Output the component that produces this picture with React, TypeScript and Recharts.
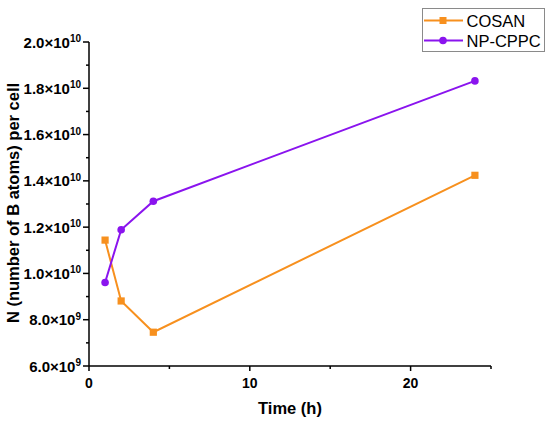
import { LineChart, Line, XAxis, YAxis, Legend } from 'recharts';

const TIMES = [1, 2, 4, 24];
const COSAN = [1.144e10, 8.81e9, 7.46e9, 1.424e10];
const NP_CPPC = [9.61e9, 1.189e10, 1.312e10, 1.832e10];

const X_TICKS = [0, 5, 10, 15, 20, 25];
const X_LABELED = [0, 10, 20];
const Y_TICKS = [6e9, 7e9, 8e9, 9e9, 1e10, 1.1e10, 1.2e10, 1.3e10, 1.4e10, 1.5e10, 1.6e10, 1.7e10, 1.8e10, 1.9e10, 2e10];
const Y_LABELED = [6e9, 8e9, 1e10, 1.2e10, 1.4e10, 1.6e10, 1.8e10, 2e10];

const ORANGE = '#F7901E';
const PURPLE = '#8A14EE';
const FONT = '"Liberation Sans", Arial, sans-serif';

const data = TIMES.map((t, i) => ({ time: t, cosan: COSAN[i], npcppc: NP_CPPC[i] }));

const XTick = ({ x, y, payload }: any) => {
  const major = X_LABELED.includes(payload.value);
  return (
    <g>
      <line x1={x} x2={x} y1={y} y2={y + (major ? 5 : 3)} stroke="#000" strokeWidth={1.5} />
      {major && (
        <text x={x} y={y + 22} textAnchor="middle" fontFamily={FONT} fontWeight="bold" fontSize={14} fill="#000">
          {payload.value}
        </text>
      )}
    </g>
  );
};

const YTick = ({ x, y, payload }: any) => {
  const v = payload.value;
  const major = Y_LABELED.includes(v);
  const exp = Math.floor(Math.log10(v) + 1e-9);
  const mant = (v / Math.pow(10, exp)).toFixed(1);
  return (
    <g>
      <line x1={x - (major ? 6 : 3)} x2={x} y1={y} y2={y} stroke="#000" strokeWidth={1.5} />
      {major && (
        <text x={x - 8} y={y + 5.5} textAnchor="end" fontFamily={FONT} fontWeight="bold" fontSize={15} fill="#000">
          {mant}×10
          <tspan dy={-5.5} fontSize={10}>{exp}</tspan>
        </text>
      )}
    </g>
  );
};

const SquareDot = ({ cx, cy }: any) => (
  <rect x={cx - 3.6} y={cy - 3.6} width={7.2} height={7.2} fill={ORANGE} />
);

const CircleDot = ({ cx, cy }: any) => <circle cx={cx} cy={cy} r={3.8} fill={PURPLE} />;

const LegendBox = () => (
  <svg width={124} height={45} style={{ display: 'block' }}>
    <rect x={0.5} y={0.5} width={122} height={43} fill="#fff" stroke="#8a8a8a" strokeWidth={1} />
    <line x1={2} x2={41} y1={12.5} y2={12.5} stroke={ORANGE} strokeWidth={2} />
    <rect x={17.5} y={9} width={7} height={7} fill={ORANGE} />
    <text x={44.5} y={18.5} fontFamily={FONT} fontSize={16.5} fill="#000">COSAN</text>
    <line x1={2} x2={41} y1={32.5} y2={32.5} stroke={PURPLE} strokeWidth={2} />
    <circle cx={21} cy={32.5} r={3.8} fill={PURPLE} />
    <text x={44.5} y={38.5} fontFamily={FONT} fontSize={16.5} fill="#000">NP-CPPC</text>
  </svg>
);

export default function App() {
  return (
    <div style={{ position: 'absolute', left: 0, top: 0, width: 550, height: 422, background: '#fff' }}>
      <LineChart width={550} height={422} data={data} margin={{ top: 42, right: 59, bottom: 26, left: 8 }}>
        <XAxis
          dataKey="time"
          type="number"
          domain={[0, 25]}
          ticks={X_TICKS}
          tick={<XTick />}
          tickSize={0}
          tickMargin={0}
          tickLine={false}
          height={30}
          axisLine={{ stroke: '#000', strokeWidth: 1.5 }}
          interval={0}
          label={{
            content: ({ viewBox }: any) => (
              <text x={viewBox.x + viewBox.width / 2} y={414} textAnchor="middle" fontFamily={FONT} fontWeight="bold" fontSize={16.5} fill="#000">
                Time (h)
              </text>
            ),
          }}
        />
        <YAxis
          type="number"
          domain={[6e9, 2e10]}
          ticks={Y_TICKS}
          tick={<YTick />}
          tickSize={0}
          tickMargin={0}
          tickLine={false}
          width={81}
          interval={0}
          axisLine={{ stroke: '#000', strokeWidth: 1.5 }}
          label={{
            content: () => (
              <text x={19} y={203} transform="rotate(-90, 19, 203)" textAnchor="middle" fontFamily={FONT} fontWeight="bold" fontSize={16.5} fill="#000">
                N (number of B atoms) per cell
              </text>
            ),
          }}
        />
        <Legend
          layout="horizontal"
          verticalAlign="middle"
          align="center"
          content={<LegendBox />}
          wrapperStyle={{ position: 'absolute', left: 422, top: 8, width: 124, height: 45 }}
        />
        <Line
          dataKey="cosan"
          name="COSAN"
          type="linear"
          stroke={ORANGE}
          strokeWidth={2}
          dot={<SquareDot />}
          activeDot={false}
          isAnimationActive={false}
        />
        <Line
          dataKey="npcppc"
          name="NP-CPPC"
          type="linear"
          stroke={PURPLE}
          strokeWidth={2}
          dot={<CircleDot />}
          activeDot={false}
          isAnimationActive={false}
        />
      </LineChart>
    </div>
  );
}
